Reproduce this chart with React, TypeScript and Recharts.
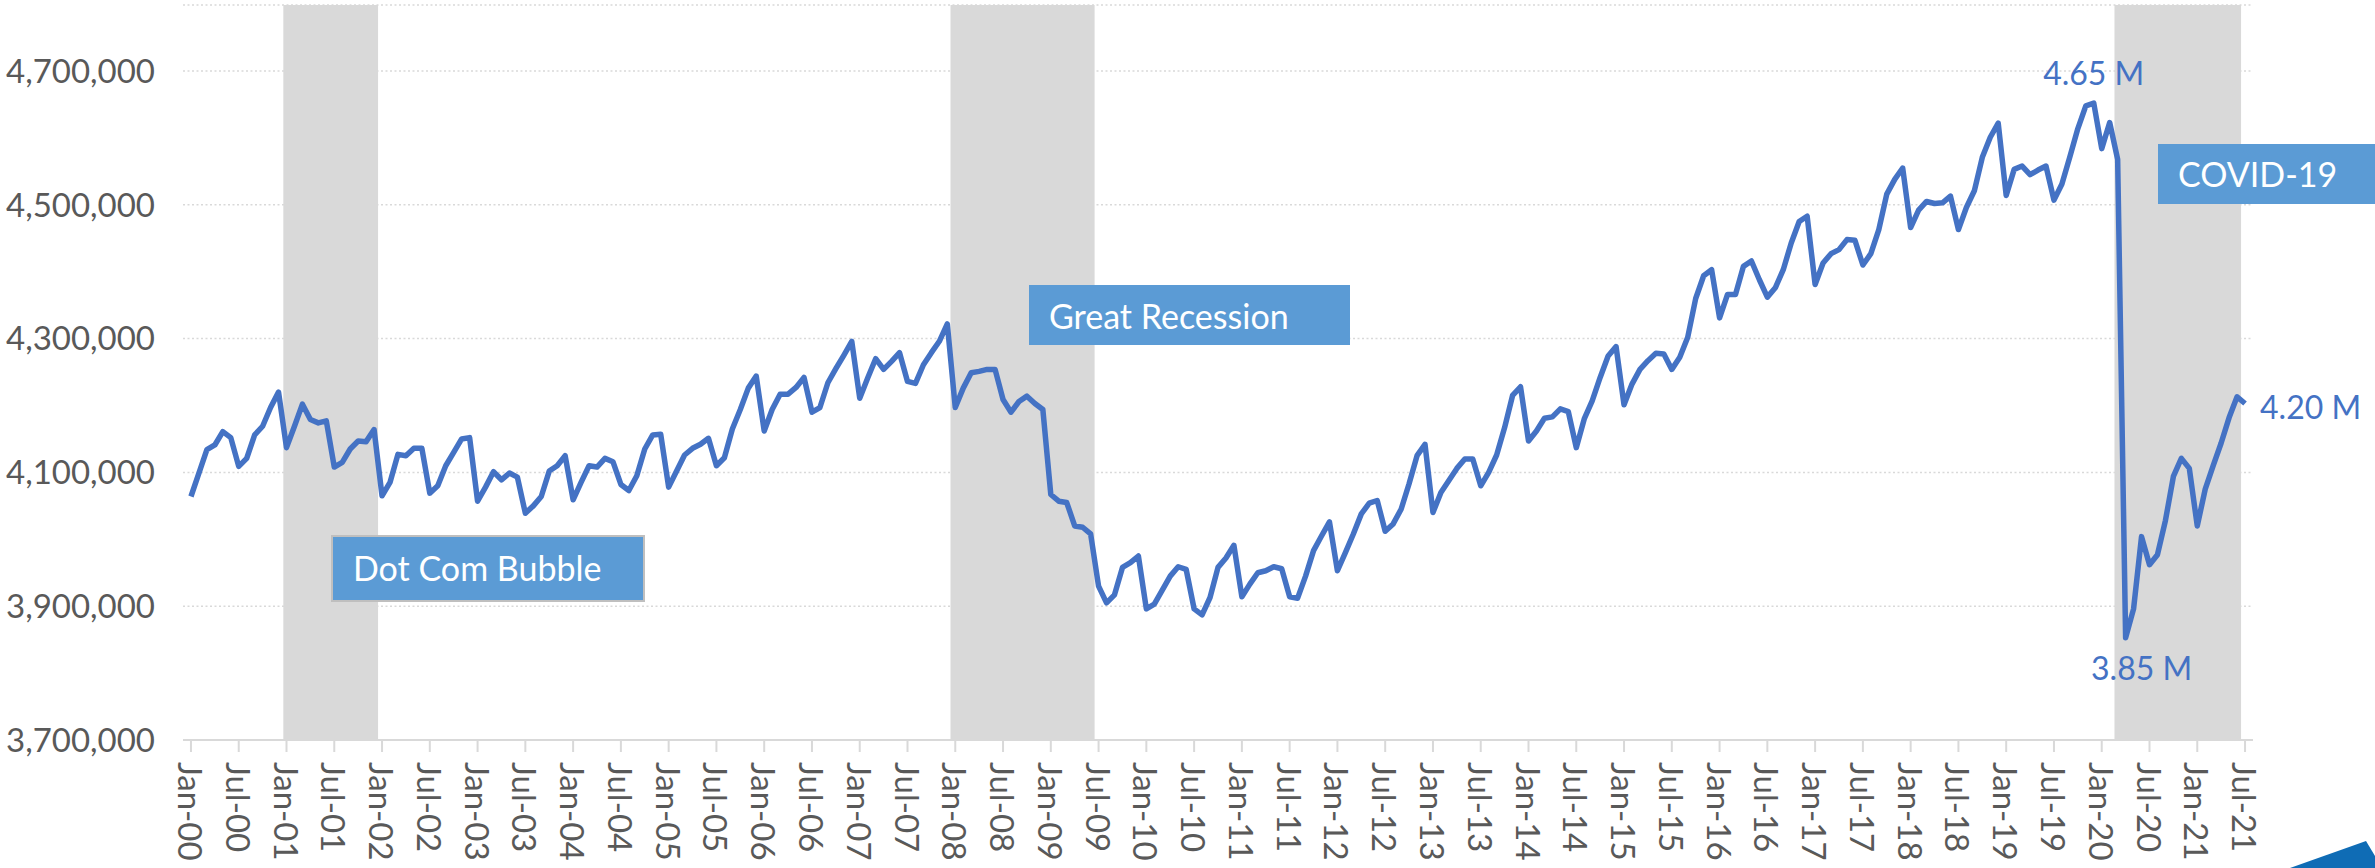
import React from 'react';
import { LineChart, Line, XAxis, YAxis, CartesianGrid, ReferenceArea } from 'recharts';

const MONTHS = ['Jan', 'Feb', 'Mar', 'Apr', 'May', 'Jun', 'Jul', 'Aug', 'Sep', 'Oct', 'Nov', 'Dec'];
const YEARS = ['00', '01', '02', '03', '04', '05', '06', '07', '08', '09', '10', '11', '12', '13', '14', '15', '16', '17', '18', '19', '20', '21'];

// values in thousands
const y2000 = [4064, 4099, 4134, 4141, 4161, 4152, 4109, 4121, 4156, 4169, 4197, 4220];
const y2001 = [4137, 4169, 4202, 4179, 4174, 4177, 4108, 4115, 4135, 4147, 4146, 4164];
const y2002 = [4065, 4085, 4127, 4125, 4136, 4136, 4069, 4080, 4110, 4130, 4150, 4152];
const y2003 = [4057, 4078, 4101, 4089, 4099, 4093, 4039, 4050, 4064, 4102, 4110, 4125];
const y2004 = [4059, 4085, 4110, 4108, 4121, 4116, 4082, 4073, 4095, 4135, 4156, 4157];
const y2005 = [4078, 4102, 4126, 4136, 4142, 4151, 4110, 4122, 4165, 4194, 4226, 4244];
const y2006 = [4162, 4194, 4217, 4217, 4227, 4242, 4190, 4197, 4234, 4255, 4275, 4296];
const y2007 = [4211, 4241, 4270, 4254, 4266, 4279, 4236, 4233, 4261, 4279, 4296, 4322];
const y2008 = [4197, 4226, 4249, 4251, 4254, 4254, 4209, 4190, 4206, 4214, 4203, 4194];
const y2009 = [4067, 4057, 4055, 4020, 4018, 4008, 3930, 3905, 3917, 3958, 3965, 3975];
const y2010 = [3896, 3903, 3924, 3945, 3959, 3955, 3896, 3887, 3913, 3958, 3972, 3991];
const y2011 = [3914, 3933, 3950, 3953, 3959, 3956, 3914, 3912, 3945, 3983, 4005, 4026];
const y2012 = [3953, 3980, 4008, 4038, 4054, 4058, 4012, 4023, 4045, 4083, 4125, 4142];
const y2013 = [4040, 4070, 4088, 4106, 4120, 4120, 4080, 4100, 4126, 4167, 4215, 4228];
const y2014 = [4147, 4162, 4181, 4183, 4195, 4191, 4137, 4180, 4207, 4242, 4274, 4288];
const y2015 = [4201, 4232, 4254, 4267, 4278, 4277, 4254, 4272, 4302, 4360, 4394, 4403];
const y2016 = [4331, 4366, 4366, 4408, 4416, 4388, 4362, 4376, 4403, 4443, 4475, 4483];
const y2017 = [4381, 4413, 4427, 4433, 4448, 4447, 4410, 4427, 4463, 4516, 4538, 4555];
const y2018 = [4466, 4492, 4505, 4502, 4503, 4513, 4463, 4496, 4521, 4571, 4601, 4622];
const y2019 = [4514, 4553, 4558, 4545, 4552, 4558, 4507, 4531, 4572, 4614, 4648, 4652];
const y2020 = [4584, 4623, 4568, 3853, 3896, 4004, 3962, 3977, 4028, 4094, 4121, 4106];
const y2021 = [4020, 4075, 4110, 4144, 4182, 4213, 4203];

const values = [
  ...y2000, ...y2001, ...y2002, ...y2003, ...y2004, ...y2005, ...y2006, ...y2007,
  ...y2008, ...y2009, ...y2010, ...y2011, ...y2012, ...y2013, ...y2014, ...y2015,
  ...y2016, ...y2017, ...y2018, ...y2019, ...y2020, ...y2021,
].map((v) => v * 1000);

const monthLabels = YEARS.flatMap((yy) => MONTHS.map((m) => `${m}-${yy}`)).slice(0, values.length);
const data = values.map((v, i) => ({ i, month: monthLabels[i], v }));
const xTicks = data.filter((d) => d.i % 6 === 0).map((d) => d.i);
const yTicks = [3700000, 3900000, 4100000, 4300000, 4500000, 4700000];

const recessionBands = [
  { name: 'Dot Com Bubble', x1: 11.6, x2: 23.5 },
  { name: 'Great Recession', x1: 95.4, x2: 113.5 },
  { name: 'COVID-19', x1: 241.6, x2: 257.5 },
];

const peakIdx = 239;
const troughIdx = 243;
const lastIdx = values.length - 1;

const FONT = "Lato, 'Open Sans', sans-serif";
const AXIS_TEXT = '#595959';
const LINE = '#4472C4';
const BOX = '#5B9BD5';

const fmtM = (v: number) => `${(v / 1000000).toFixed(2)} M`;

const XTick = (props: any) => {
  const { x, y, payload } = props;
  return (
    <text
      x={x}
      y={y}
      transform={`rotate(90 ${x} ${y})`}
      textAnchor="start"
      dominantBaseline="central"
      fill={AXIS_TEXT}
      fontSize={33}
      fontFamily={FONT}
    >
      {monthLabels[payload.value]}
    </text>
  );
};

const renderLabel = (props: any) => {
  const { x, y, index, value } = props;
  const common = { fill: LINE, fontSize: 32, fontFamily: FONT };
  if (index === peakIdx) {
    return (
      <text key="peak" x={x} y={y - 18} textAnchor="middle" {...common}>
        {fmtM(value)}
      </text>
    );
  }
  if (index === troughIdx) {
    return (
      <text key="trough" x={x + 16} y={y + 42} textAnchor="middle" {...common}>
        {fmtM(value)}
      </text>
    );
  }
  if (index === lastIdx) {
    return (
      <text key="last" x={x + 15} y={y + 3} textAnchor="start" dominantBaseline="central" {...common}>
        {fmtM(value)}
      </text>
    );
  }
  return null;
};

export default function App() {
  return (
    <div style={{ position: 'absolute', left: 0, top: 0, width: 2375, height: 868, overflow: 'hidden', background: '#fff' }}>
      <LineChart width={2375} height={868} data={data} margin={{ top: 5, right: 122, bottom: 0, left: 0 }}>
        <CartesianGrid vertical={false} stroke="#D9D9D9" strokeWidth={1.5} strokeDasharray="2 2.5" />
        {recessionBands.map((b) => (
          <ReferenceArea key={b.name} x1={b.x1} x2={b.x2} fill="#D9D9D9" fillOpacity={1} stroke="none" ifOverflow="visible" />
        ))}
        <XAxis
          dataKey="i"
          type="number"
          domain={[-1, 259]}
          ticks={xTicks}
          interval={0}
          allowDataOverflow
          height={128}
          tickSize={12}
          tickMargin={10}
          axisLine={{ stroke: '#D9D9D9', strokeWidth: 2 }}
          tickLine={{ stroke: '#D9D9D9', strokeWidth: 2 }}
          tick={<XTick />}
        />
        <YAxis
          type="number"
          domain={[3700000, 4798700]}
          allowDataOverflow
          ticks={yTicks}
          interval={0}
          width={183}
          axisLine={false}
          tickLine={false}
          tickSize={0}
          tickMargin={28}
          tickFormatter={(v: number) => v.toLocaleString('en-US')}
          tick={{ fill: AXIS_TEXT, fontSize: 33, fontFamily: FONT }}
        />
        <Line
          type="linear"
          dataKey="v"
          stroke={LINE}
          strokeWidth={5.5}
          strokeLinejoin="round"
          dot={false}
          isAnimationActive={false}
          label={renderLabel}
        />
      </LineChart>
      <svg width={2375} height={868} style={{ position: 'absolute', left: 0, top: 0, pointerEvents: 'none' }}>
        <rect x={332} y={536} width={312} height={65} fill={BOX} stroke="#BFBFBF" strokeWidth={2} />
        <text x={353} y={581} fill="#fff" fontSize={34} fontFamily={FONT}>Dot Com Bubble</text>
        <rect x={1029} y={285} width={321} height={60} fill={BOX} />
        <text x={1049} y={329} fill="#fff" fontSize={34} fontFamily={FONT}>Great Recession</text>
        <rect x={2158} y={144} width={217} height={60} fill={BOX} />
        <text x={2178} y={187} fill="#fff" fontSize={34} fontFamily={FONT}>COVID-19</text>
        <polygon points="2290,868 2366,841 2375,856 2375,868" fill="#0F6CB5" />
      </svg>
    </div>
  );
}
